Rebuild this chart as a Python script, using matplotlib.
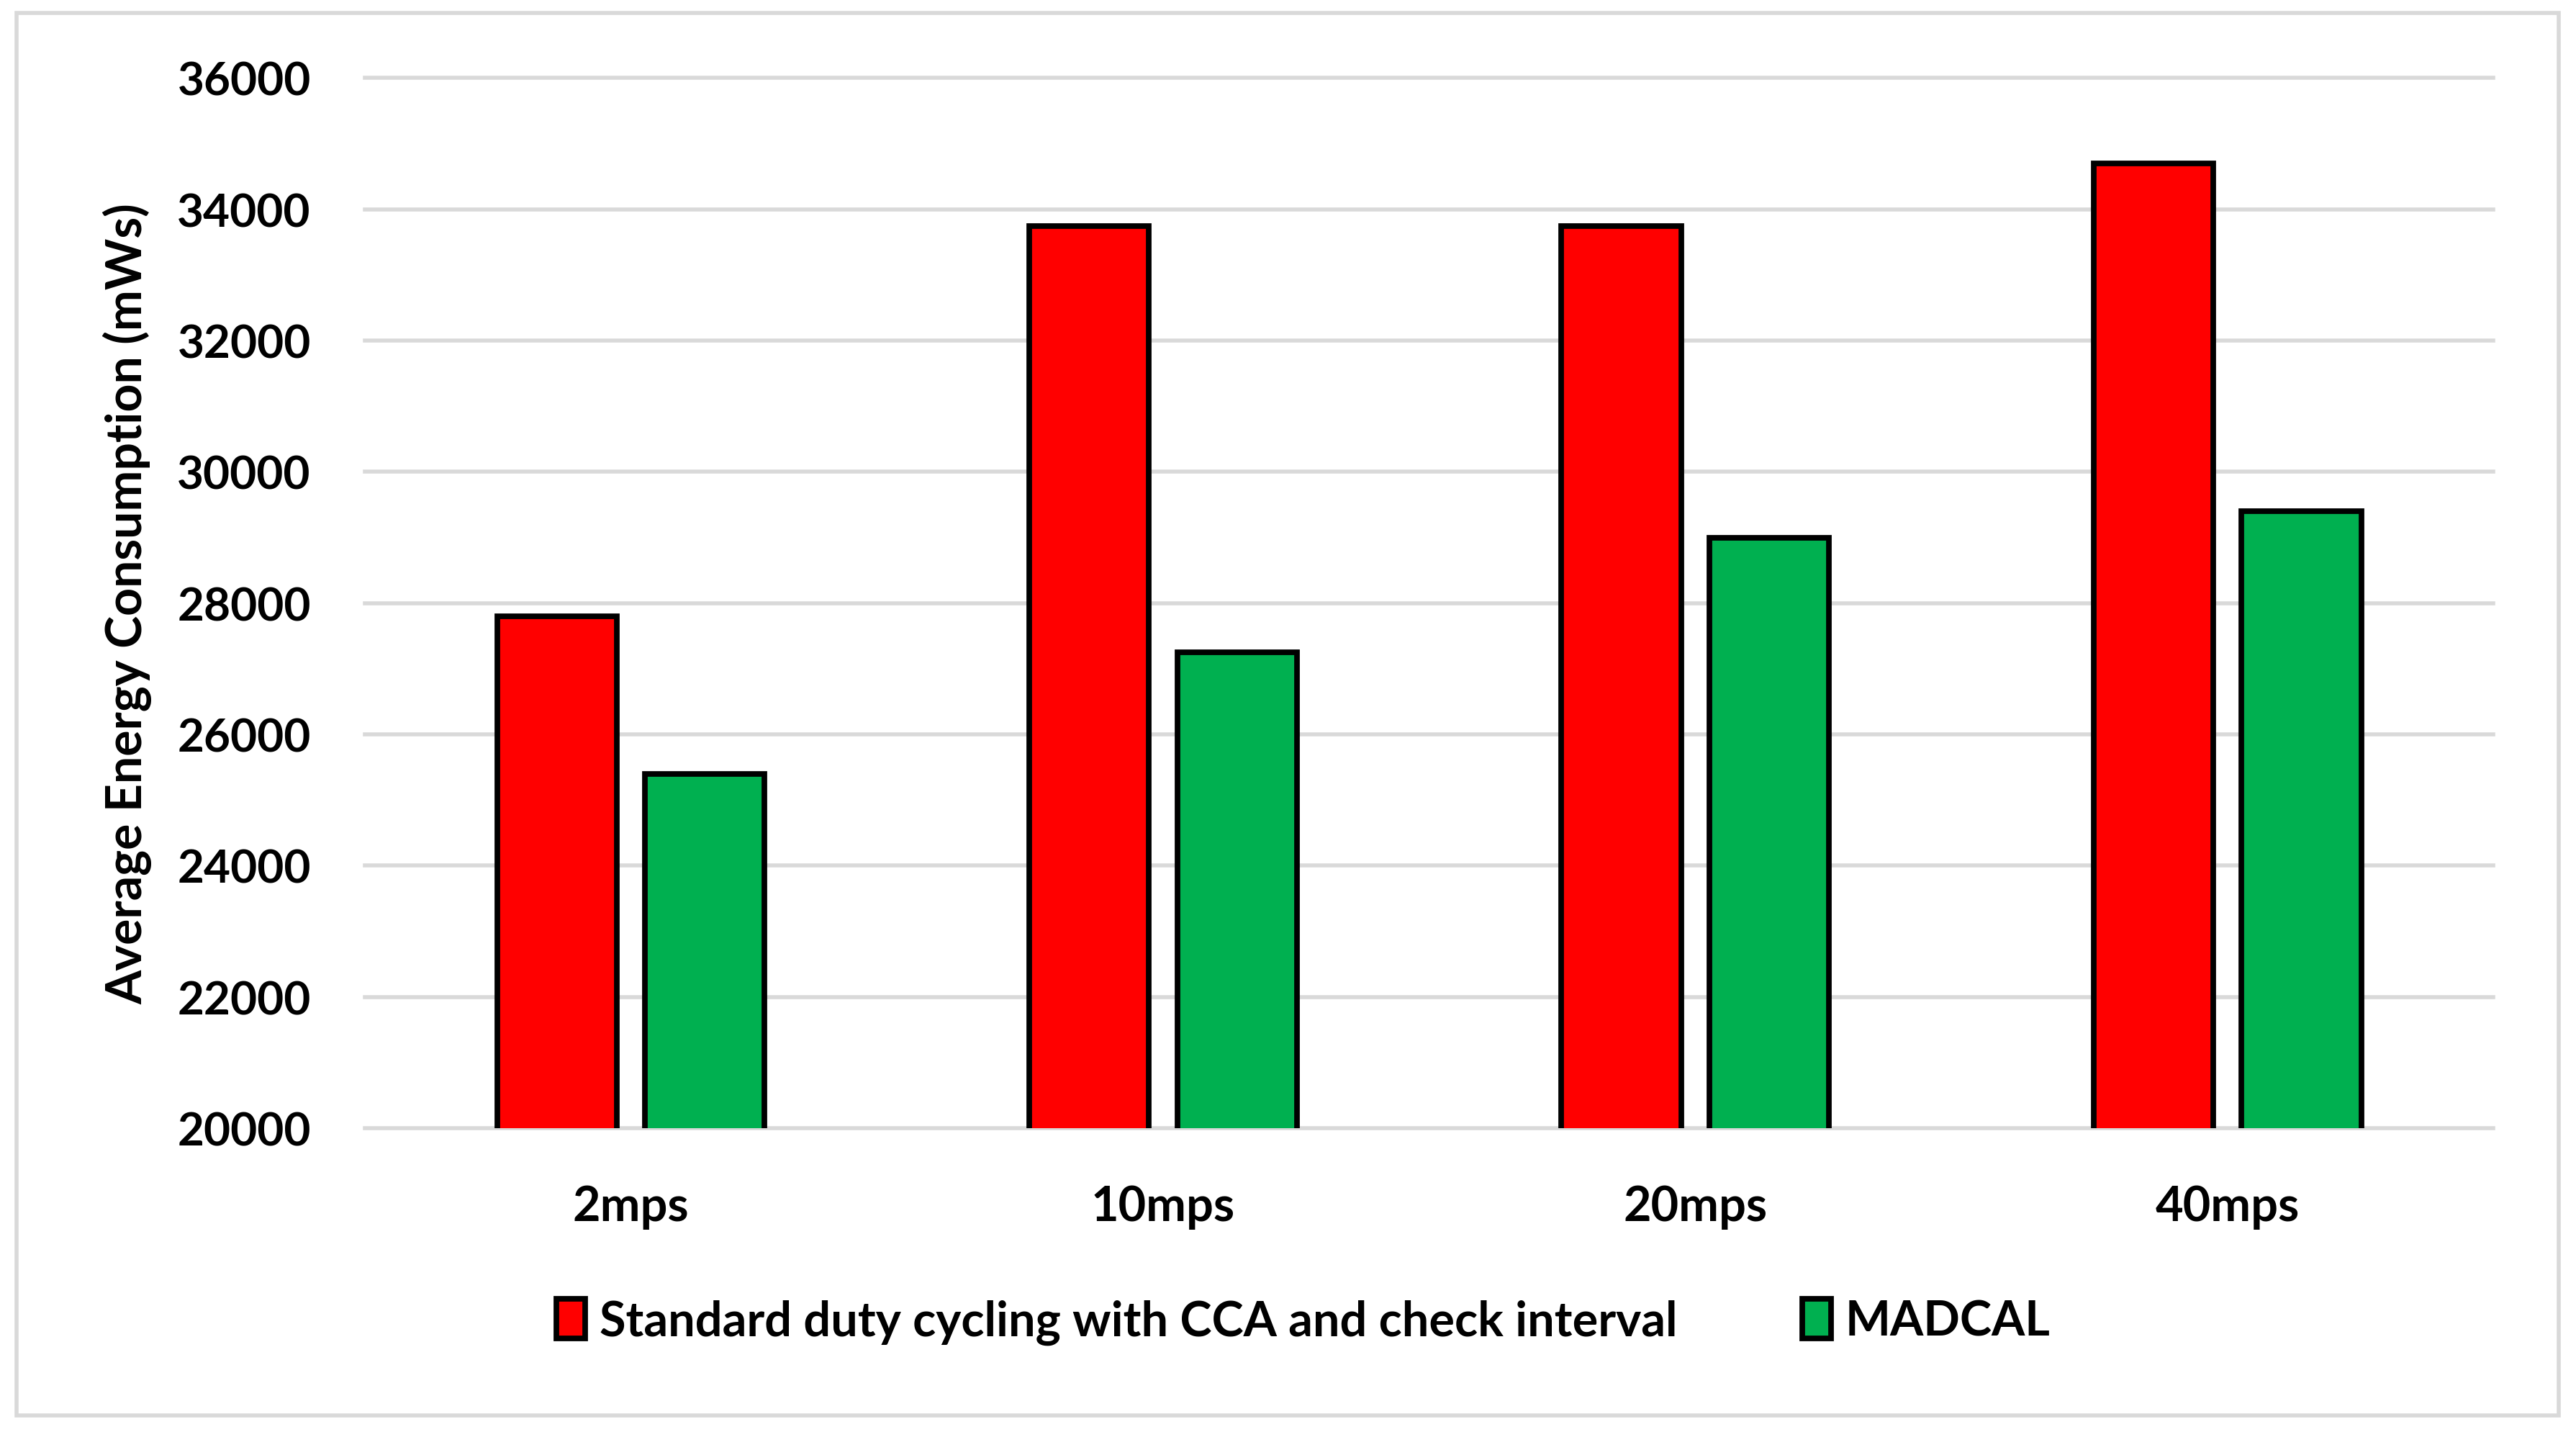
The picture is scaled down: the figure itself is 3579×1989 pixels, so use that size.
import numpy as np
import matplotlib
matplotlib.use('Agg')
import matplotlib.pyplot as plt
from matplotlib.patches import Rectangle

plt.rcParams['font.family'] = ['Lato', 'DejaVu Sans']
plt.rcParams['font.weight'] = 'bold'

# data
categories = ['2mps', '10mps', '20mps', '40mps']
standard = [27800, 33750, 33750, 34700]
madcal = [25400, 27250, 29000, 29400]
series_names = ['Standard duty cycling with CCA and check interval', 'MADCAL']
yticks = [20000, 22000, 24000, 26000, 28000, 30000, 32000, 34000, 36000]

fig = plt.figure(figsize=(17.895, 9.95), dpi=200)
ax = fig.add_axes([0.1416, 0.212, 0.8264, 0.733])

x = np.arange(len(categories))
w = 0.225
off = 0.139
b1 = ax.bar(x - off, standard, w, color='#FF0000', edgecolor='black', linewidth=2.8,
            label=series_names[0], zorder=3)
b2 = ax.bar(x + off, madcal, w, color='#00B050', edgecolor='black', linewidth=2.8,
            label=series_names[1], zorder=3)

ax.set_xlim(-0.5, len(categories) - 0.5)
ax.set_ylim(20000, 36000)
ax.set_yticks(yticks)
ax.set_xticks(x)
ax.set_xticklabels(categories)
ax.tick_params(axis='y', length=0, pad=27, labelsize=23)
ax.tick_params(axis='x', length=0, pad=28, labelsize=24)

ax.yaxis.grid(True, color='#D9D9D9', linewidth=2.0)
for gl in ax.get_ygridlines():
    gl.set_clip_on(False)
ax.set_axisbelow(True)
for s in ax.spines.values():
    s.set_visible(False)

ax.set_ylabel('Average Energy Consumption (mWs)', fontsize=24.5, fontweight='bold')
ax.yaxis.set_label_coords(-0.100, 0.5)

leg = fig.legend(handles=[b1, b2], loc='center', bbox_to_anchor=(0.506, 0.077), ncol=2,
                 frameon=False, fontsize=24, handlelength=0.6, handleheight=0.9,
                 handletextpad=0.3, columnspacing=2.6)

# light gray chart border
fig.patches.append(Rectangle((0.0064, 0.0115), 0.987, 0.979, transform=fig.transFigure,
                             fill=False, edgecolor='#D9D9D9', linewidth=2.0))

fig.savefig('out.png', dpi=200, facecolor='white')
